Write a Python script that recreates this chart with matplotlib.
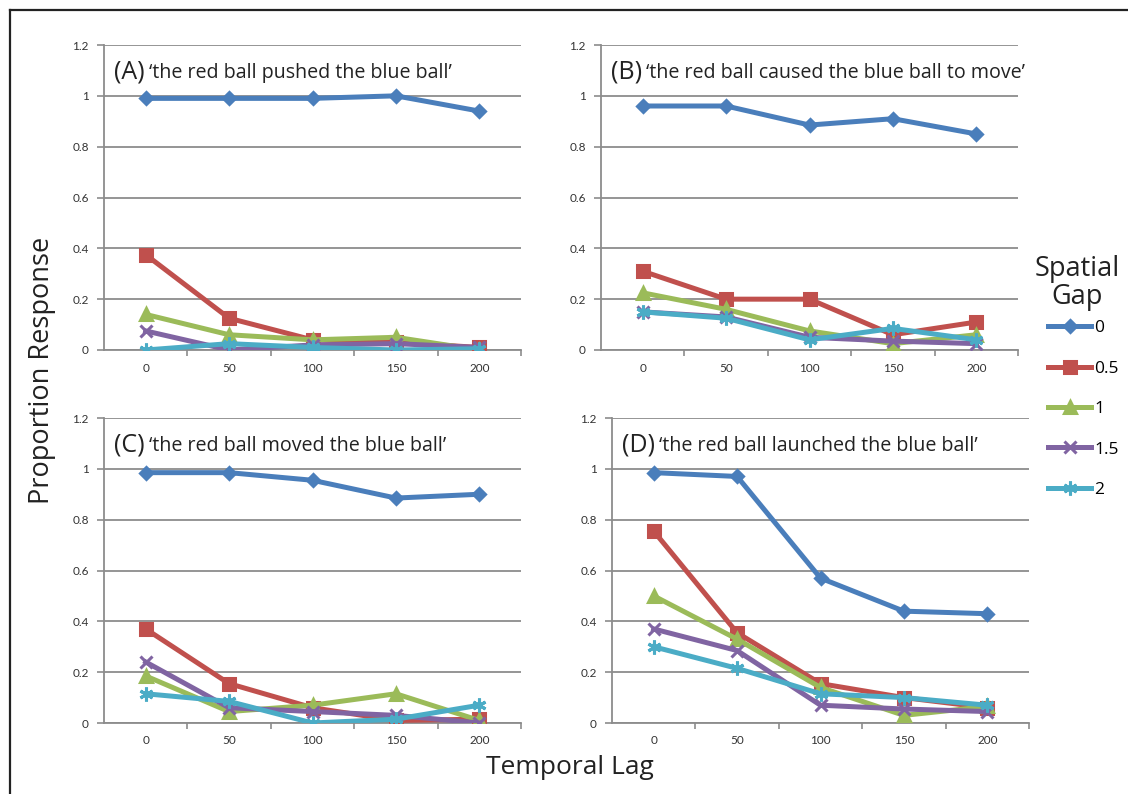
import matplotlib
matplotlib.use("Agg")
from matplotlib import pyplot as plt
from matplotlib.lines import Line2D

# Data
lags = ["0", "50", "100", "150", "200"]
gaps = ["0", "0.5", "1", "1.5", "2"]

# each panel: one row per spatial gap (0, 0.5, 1, 1.5, 2)
pushed = [
    [0.99, 0.99, 0.99, 1.00, 0.94],
    [0.375, 0.125, 0.04, 0.03, 0.01],
    [0.14, 0.06, 0.04, 0.05, 0.00],
    [0.075, 0.00, 0.02, 0.025, 0.01],
    [0.00, 0.025, 0.01, 0.00, 0.005],
]
caused = [
    [0.96, 0.96, 0.885, 0.91, 0.85],
    [0.31, 0.20, 0.20, 0.06, 0.11],
    [0.225, 0.16, 0.075, 0.025, 0.06],
    [0.15, 0.13, 0.05, 0.035, 0.025],
    [0.15, 0.125, 0.04, 0.085, 0.04],
]
moved = [
    [0.985, 0.985, 0.955, 0.885, 0.90],
    [0.37, 0.155, 0.06, 0.01, 0.015],
    [0.185, 0.045, 0.07, 0.115, 0.01],
    [0.24, 0.06, 0.045, 0.03, 0.00],
    [0.115, 0.085, 0.00, 0.015, 0.07],
]
launched = [
    [0.985, 0.97, 0.57, 0.44, 0.43],
    [0.755, 0.355, 0.155, 0.10, 0.06],
    [0.50, 0.33, 0.14, 0.03, 0.065],
    [0.37, 0.285, 0.07, 0.055, 0.045],
    [0.30, 0.215, 0.115, 0.10, 0.07],
]

panel_letters = ["(A)", "(B)", "(C)", "(D)"]
panel_texts = [
    "\u2018the red ball pushed the blue ball\u2019",
    "\u2018the red ball caused the blue ball to move\u2019",
    "\u2018the red ball moved the blue ball\u2019",
    "\u2018the red ball launched the blue ball\u2019",
]

colors = ["#4a7ebb", "#c0504d", "#9bbb59", "#8064a2", "#4bacc6"]
markers = ["D", "s", "^", "x", (6, 2, 0)]
msizes = [6, 9, 9, 9, 10]

font = "Open Sans"
grid_col = "#8c8c8c"

fig = plt.figure(figsize=(11.28, 7.94), dpi=100)

W, H = 1128, 794
boxes = [(104, 45, 417), (601, 45, 417), (104, 418, 417), (612, 418, 417)]
ax_h = 305

for i, data in enumerate([pushed, caused, moved, launched]):
    left, top, width = boxes[i]
    ax = fig.add_axes([left / W, (H - top - ax_h) / H, width / W, ax_h / H])
    x = list(range(len(lags)))
    for g in range(len(gaps)):
        ax.plot(x, data[g], color=colors[g], lw=3.6, marker=markers[g],
                ms=msizes[g], mew=2.2, mec=colors[g], mfc=colors[g],
                solid_joinstyle="miter", zorder=3 + g * 0.1)

    ax.set_xlim(-0.5, 4.5)
    ax.set_ylim(0, 1.2)
    ax.set_yticks([0, 0.2, 0.4, 0.6, 0.8, 1.0, 1.2])
    ax.set_yticklabels(["0", "0.2", "0.4", "0.6", "0.8", "1", "1.2"])
    ax.set_xticks(x)
    ax.set_xticklabels(lags)
    ax.set_xticks([0.5, 1.5, 2.5, 3.5, 4.5], minor=True)
    ax.tick_params(axis="x", which="major", length=0, pad=9)
    ax.tick_params(axis="x", which="minor", length=4, direction="out", color=grid_col, width=1.2)
    ax.tick_params(axis="y", length=5, direction="out", color=grid_col, width=1.2, pad=6)
    for lab in ax.get_xticklabels() + ax.get_yticklabels():
        lab.set_fontfamily("Lato")
        lab.set_fontsize(8.5)
        lab.set_color("#333333")

    ax.grid(axis="y", color=grid_col, lw=1.3)
    ax.set_axisbelow(True)
    for side in ["top", "right"]:
        ax.spines[side].set_visible(False)
    for side in ["left", "bottom"]:
        ax.spines[side].set_color(grid_col)
        ax.spines[side].set_linewidth(1.3)

    tr = ax.get_yaxis_transform()
    t = ax.text(0.024, 1.094, panel_letters[i], transform=tr, fontsize=18,
                family=font, va="center", ha="left", color="#222222")
    ax.annotate(panel_texts[i], xy=(1, 0.5), xycoords=t, xytext=(3, -1),
                textcoords="offset points", fontsize=14.1, family=font,
                va="center", ha="left", color="#222222", annotation_clip=False)

fig.text(42 / W, 1 - 370 / H, "Proportion Response", rotation=90, fontsize=19.5,
         family=font, ha="center", va="center", color="#222222")
fig.text(570 / W, 1 - 768 / H, "Temporal Lag", fontsize=19, family=font,
         ha="center", va="center", color="#222222")

# legend
fig.text(1077 / W, 1 - 283 / H, "Spatial\nGap", fontsize=19.5, family=font,
         ha="center", va="center", linespacing=1.0, color="#222222")
handles = [Line2D([], [], color=colors[g], lw=3.6, marker=markers[g],
                  ms=msizes[g], mew=2.2, mec=colors[g]) for g in range(len(gaps))]
leg = fig.legend(handles, gaps, loc="upper left", bbox_to_anchor=(1048 / W, 1 - 320 / H),
                 frameon=False, prop={"family": font, "size": 12.5},
                 handlelength=2.5, handletextpad=0.15, labelspacing=1.4,
                 borderpad=0, borderaxespad=0)

# frame lines at top and left edge
fig.add_artist(Line2D([10 / W, 1], [1 - 10 / H, 1 - 10 / H], color="#222222", lw=1.6,
                      transform=fig.transFigure))
fig.add_artist(Line2D([10 / W, 10 / W], [0, 1 - 10 / H], color="#222222", lw=1.6,
                      transform=fig.transFigure))

fig.savefig("out.png", dpi=100)
